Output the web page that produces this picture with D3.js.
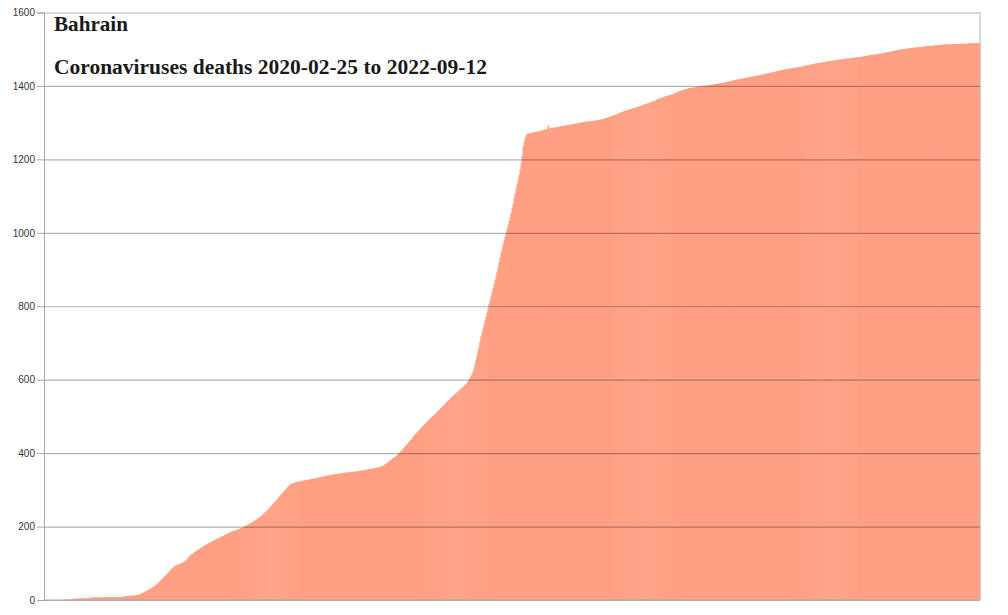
<!DOCTYPE html>
<html><head><meta charset="utf-8">
<script src="https://cdn.jsdelivr.net/npm/d3@7"></script>
<style>html,body{margin:0;padding:0;background:#fff;}svg{display:block;}</style>
</head><body>
<svg id="chart" width="1008" height="615"></svg>
<script>
const country = "Bahrain";
const titleText = "Coronaviruses deaths 2020-02-25 to 2022-09-12";
const startDate = "2020-02-25";
const endDate = "2022-09-12";
const yTicks = [0, 200, 400, 600, 800, 1000, 1200, 1400, 1600];
// cumulative deaths, one value per day from startDate to endDate
const deaths = [
0,0,0,0,0,0,0,0,0,0,
0,0,0,0,0,0,0,0,0,1,
1,1,1,1,1,1,2,2,3,3,
4,4,4,4,4,4,4,4,4,5,
5,5,5,5,6,6,6,7,7,7,
7,7,7,7,7,7,7,8,8,8,
8,8,8,8,8,8,8,8,8,8,
8,8,8,8,8,8,8,9,9,10,
10,10,11,11,11,12,12,12,12,12,
13,13,14,14,15,16,17,19,20,22,
23,24,26,27,29,30,32,34,36,38,
40,42,44,47,49,52,55,58,61,63,
66,69,72,75,78,82,85,87,89,91,
93,94,96,97,98,99,100,102,103,105,
106,109,112,116,119,122,124,126,128,130,
132,134,136,138,139,141,143,145,147,148,
150,151,153,154,156,157,159,160,162,163,
165,166,167,168,170,171,173,174,175,177,
178,179,181,182,183,185,186,187,188,189,
190,191,192,193,194,195,196,197,198,200,
201,203,205,206,208,210,211,213,214,216,
218,220,222,224,226,228,230,233,235,238,
240,243,246,249,252,255,258,261,264,267,
270,273,277,280,284,287,290,293,296,299,
302,306,309,311,314,316,317,318,319,320,
321,321,322,323,323,324,324,325,325,326,
326,327,327,328,329,329,330,330,331,331,
332,333,333,334,334,335,336,336,337,338,
338,339,339,340,340,341,341,342,342,343,
343,343,344,344,345,345,345,346,346,347,
347,347,348,348,348,349,349,349,350,350,
350,351,351,351,352,352,353,353,354,354,
355,355,356,356,357,357,358,358,359,360,
360,361,361,362,363,364,365,366,368,370,
372,374,376,378,381,383,385,387,389,391,
393,396,398,401,404,407,410,413,417,420,
423,426,429,433,436,439,442,446,449,452,
455,458,461,464,467,470,473,476,478,481,
484,487,490,492,495,498,500,503,505,508,
511,514,516,519,522,525,528,530,533,536,
539,542,545,547,550,553,555,558,560,563,
565,568,570,573,575,578,580,583,585,588,
591,595,600,604,609,615,622,630,641,654,
666,678,690,704,718,729,739,750,761,772,
783,794,805,816,827,838,849,860,871,881,
894,907,920,932,945,955,966,978,989,1000,
1011,1021,1032,1043,1054,1067,1080,1094,1108,1120,
1133,1145,1158,1172,1190,1210,1236,1248,1260,1265,
1270,1270,1271,1271,1272,1273,1273,1274,1274,1275,
1275,1276,1277,1278,1278,1279,1280,1281,1281,1282,
1283,1292,1284,1285,1285,1286,1286,1287,1287,1288,
1288,1289,1289,1290,1290,1291,1291,1292,1292,1293,
1293,1294,1294,1295,1295,1296,1296,1297,1297,1298,
1298,1299,1299,1300,1300,1301,1301,1302,1302,1303,
1303,1303,1304,1304,1304,1305,1305,1305,1306,1306,
1307,1307,1308,1308,1309,1310,1310,1311,1312,1313,
1314,1315,1316,1317,1318,1319,1320,1321,1322,1323,
1324,1326,1327,1328,1329,1330,1331,1332,1333,1334,
1335,1336,1336,1337,1338,1339,1340,1341,1341,1342,
1343,1344,1345,1346,1347,1348,1349,1350,1351,1352,
1353,1354,1355,1356,1357,1358,1359,1360,1362,1363,
1364,1365,1366,1367,1368,1369,1370,1371,1372,1373,
1374,1375,1375,1376,1377,1378,1379,1380,1382,1383,
1384,1385,1386,1387,1388,1389,1390,1391,1391,1392,
1393,1394,1394,1395,1395,1396,1396,1397,1397,1398,
1398,1398,1399,1399,1399,1400,1400,1400,1401,1401,
1401,1402,1402,1403,1403,1404,1404,1405,1405,1406,
1406,1407,1407,1408,1408,1409,1409,1410,1411,1411,
1412,1412,1413,1414,1414,1415,1416,1416,1417,1418,
1418,1419,1419,1420,1420,1421,1421,1422,1422,1423,
1424,1424,1425,1425,1426,1426,1427,1427,1428,1428,
1429,1429,1430,1431,1431,1432,1432,1433,1434,1434,
1435,1435,1436,1437,1437,1438,1438,1439,1440,1440,
1441,1442,1443,1443,1444,1444,1445,1445,1446,1446,
1447,1447,1447,1448,1448,1449,1449,1450,1450,1451,
1451,1452,1452,1453,1453,1454,1455,1455,1456,1457,
1457,1458,1458,1459,1459,1460,1461,1461,1462,1462,
1463,1463,1463,1464,1464,1465,1465,1466,1466,1467,
1467,1468,1468,1469,1469,1469,1470,1470,1471,1471,
1472,1472,1472,1473,1473,1473,1474,1474,1475,1475,
1475,1476,1476,1476,1477,1477,1477,1478,1478,1478,
1479,1479,1479,1480,1480,1481,1481,1482,1482,1483,
1483,1484,1484,1484,1485,1485,1486,1486,1487,1487,
1488,1488,1488,1489,1489,1490,1490,1491,1491,1492,
1493,1493,1494,1494,1495,1496,1496,1497,1497,1498,
1498,1499,1499,1500,1500,1501,1501,1501,1502,1502,
1503,1503,1503,1504,1504,1504,1505,1505,1505,1506,
1506,1506,1506,1507,1507,1507,1508,1508,1508,1509,
1509,1509,1509,1510,1510,1510,1511,1511,1511,1511,
1512,1512,1512,1512,1512,1513,1513,1513,1513,1513,
1513,1513,1513,1514,1514,1514,1514,1514,1514,1514,
1514,1514,1515,1515,1515,1515,1515,1515,1515,1516,
1516,1516,1516,1516,1516,1516,1516,1517,1517,1517,
1517
];

const parse = d3.timeParse("%Y-%m-%d");
const dates = d3.timeDay.range(parse(startDate), d3.timeDay.offset(parse(endDate), 1));
const data = dates.map((d, i) => ({date: d, value: deaths[i]}));

const svg = d3.select("#chart");
const mLeft = 44, mRight = 980, mTop = 12.5, mBottom = 600;

const x = d3.scaleBand().domain(dates).range([mLeft, mRight]).padding(0);
const y = d3.scaleLinear().domain([0, 1600]).range([mBottom, mTop]);

svg.append("g").selectAll("rect").data(data).join("rect")
  .attr("x", d => x(d.date))
  .attr("width", x.bandwidth() + 0.6)
  .attr("y", d => y(d.value))
  .attr("height", d => y(0) - y(d.value))
  .attr("fill", "#ffa084");

// gridlines drawn over bars
svg.append("g")
  .attr("transform", `translate(${mLeft},0)`)
  .call(d3.axisLeft(y).tickValues(yTicks).tickSize(-(mRight - mLeft)).tickFormat(""))
  .call(g => g.select(".domain").remove())
  .call(g => g.selectAll("line").attr("stroke", "rgba(0,0,0,0.3)").attr("stroke-width", 1.2));

// left axis
svg.append("g")
  .attr("transform", `translate(${mLeft},0)`)
  .call(d3.axisLeft(y).tickValues(yTicks).tickSize(7).tickPadding(2).tickFormat(d3.format("d")))
  .call(g => g.select(".domain").attr("stroke", "#a8a8a8"))
  .call(g => g.selectAll("line").attr("stroke", "#a8a8a8"))
  .call(g => g.selectAll("text").attr("fill", "#333").attr("font-size", 10)
    .attr("font-family", "'Liberation Sans Narrow','Liberation Sans',Arial,sans-serif"));

// bottom and right borders
svg.append("line").attr("x1", mLeft).attr("x2", mRight).attr("y1", mBottom).attr("y2", mBottom)
  .attr("stroke", "#a8a8a8").attr("stroke-width", 1.2);
svg.append("line").attr("x1", mRight).attr("x2", mRight).attr("y1", mTop).attr("y2", mBottom)
  .attr("stroke", "#c0c0c0").attr("stroke-width", 1.2);

// titles
svg.append("text").attr("x", 54).attr("y", 31)
  .attr("font-family", "'Liberation Serif','DejaVu Serif',serif")
  .attr("font-weight", "bold").attr("font-size", 20).attr("fill", "#1a1a1a")
  .attr("textLength", 74).attr("lengthAdjust", "spacingAndGlyphs")
  .text(country);
svg.append("text").attr("x", 54).attr("y", 74)
  .attr("font-family", "'Liberation Serif','DejaVu Serif',serif")
  .attr("font-weight", "bold").attr("font-size", 20).attr("fill", "#1a1a1a")
  .attr("textLength", 433).attr("lengthAdjust", "spacingAndGlyphs")
  .text(titleText);
</script>
</body></html>
